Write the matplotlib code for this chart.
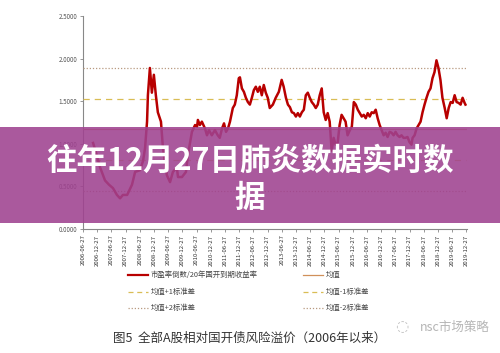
import matplotlib
matplotlib.use("Agg")
import matplotlib.pyplot as plt
from matplotlib.lines import Line2D
from matplotlib.patches import Rectangle

plt.rcParams['font.family'] = ['Noto Sans CJK SC', 'DejaVu Sans']

# ---- data (decimal years, ratio) ----
t = [2006.84, 2006.94, 2007.09, 2007.26, 2007.40, 2007.54, 2007.68, 2007.79, 2007.89, 2008.04,
     2008.21, 2008.32, 2008.49, 2008.60, 2008.67, 2008.74, 2008.77, 2008.84, 2008.91, 2008.98,
     2009.05, 2009.12, 2009.23, 2009.30, 2009.37, 2009.44, 2009.55, 2009.65, 2009.79, 2009.83,
     2009.97, 2010.11, 2010.18, 2010.32, 2010.43, 2010.50, 2010.53, 2010.60, 2010.67, 2010.78,
     2010.85, 2010.92, 2011.02, 2011.13, 2011.23, 2011.30, 2011.38, 2011.45, 2011.52, 2011.59,
     2011.66, 2011.76, 2011.83, 2011.90, 2011.97, 2012.01, 2012.08, 2012.15, 2012.22, 2012.29,
     2012.36, 2012.43, 2012.50, 2012.57, 2012.64, 2012.71, 2012.78, 2012.85, 2012.92, 2012.99,
     2013.06, 2013.17, 2013.27, 2013.38, 2013.48, 2013.55, 2013.63, 2013.70, 2013.77, 2013.84,
     2013.91, 2013.98, 2014.05, 2014.12, 2014.19, 2014.26, 2014.33, 2014.40, 2014.47, 2014.54,
     2014.61, 2014.68, 2014.75, 2014.82, 2014.89, 2014.96, 2015.03, 2015.10, 2015.17, 2015.24,
     2015.31, 2015.38, 2015.45, 2015.52, 2015.59, 2015.66, 2015.73, 2015.80, 2015.88, 2015.95,
     2016.02, 2016.09, 2016.16, 2016.23, 2016.30, 2016.37, 2016.44, 2016.51, 2016.58, 2016.65,
     2016.72, 2016.79, 2016.86, 2016.93, 2017.00, 2017.07, 2017.14, 2017.21, 2017.28, 2017.35,
     2017.42, 2017.49, 2017.56, 2017.63, 2017.70, 2017.77, 2017.84, 2017.91, 2017.98, 2018.05,
     2018.09, 2018.16, 2018.23, 2018.30, 2018.37, 2018.44, 2018.51, 2018.58, 2018.65, 2018.72,
     2018.79, 2018.86, 2018.93, 2019.00, 2019.07, 2019.14, 2019.22, 2019.29, 2019.36, 2019.43,
     2019.50, 2019.57, 2019.64, 2019.71, 2019.78, 2019.85, 2019.92, 2019.95]
ratio = [1.01, 0.90, 0.72, 0.57, 0.52, 0.48, 0.40, 0.36, 0.40, 0.40,
         0.52, 0.67, 0.69, 0.80, 0.95, 1.26, 1.57, 1.89, 1.60, 1.81,
         1.57, 1.37, 1.26, 0.95, 0.77, 0.63, 0.55, 0.67, 0.72, 0.61,
         0.61, 0.67, 0.87, 1.14, 1.22, 1.20, 1.28, 1.22, 1.26, 1.18,
         1.10, 1.16, 1.10, 1.16, 1.10, 1.07, 1.18, 1.24, 1.14, 1.18,
         1.26, 1.42, 1.46, 1.57, 1.77, 1.78, 1.65, 1.61, 1.54, 1.49,
         1.46, 1.54, 1.63, 1.67, 1.61, 1.67, 1.57, 1.69, 1.60, 1.54,
         1.42, 1.46, 1.54, 1.61, 1.75, 1.67, 1.54, 1.46, 1.43, 1.37,
         1.36, 1.32, 1.36, 1.32, 1.37, 1.40, 1.57, 1.60, 1.54, 1.49,
         1.46, 1.42, 1.46, 1.57, 1.65, 1.37, 1.28, 1.36, 1.26, 0.92,
         1.07, 0.99, 1.01, 1.22, 1.34, 1.30, 1.26, 1.10, 1.16, 1.20,
         1.49, 1.46, 1.40, 1.36, 1.32, 1.34, 1.30, 1.36, 1.32, 1.37,
         1.36, 1.40, 1.30, 1.22, 1.16, 1.10, 1.13, 1.08, 1.14, 1.13,
         1.10, 1.14, 1.10, 1.08, 1.10, 1.07, 1.07, 1.08, 1.02, 0.99,
         1.07, 1.10, 1.18, 1.22, 1.26, 1.37, 1.46, 1.54, 1.61, 1.65,
         1.77, 1.84, 1.98, 1.89, 1.75, 1.54, 1.42, 1.30, 1.42, 1.49,
         1.48, 1.57, 1.49, 1.48, 1.46, 1.54, 1.48, 1.46]

mean_val = 1.17
std_val = 0.36

tick_pos = [2006.485 + 0.5 * i for i in range(28)]
tick_labels = ['2006-06-27', '2006-12-27', '2007-06-27', '2007-12-27', '2008-06-27', '2008-12-27',
               '2009-06-27', '2009-12-27', '2010-06-27', '2010-12-27', '2011-06-27', '2011-12-27',
               '2012-06-27', '2012-12-27', '2013-06-27', '2013-12-27', '2014-06-27', '2014-12-27',
               '2015-06-27', '2015-12-27', '2016-06-27', '2016-12-27', '2017-06-27', '2017-12-27',
               '2018-06-27', '2018-12-27', '2019-06-27', '2019-12-27']
y_ticks = [0.0, 0.5, 1.0, 1.5, 2.0, 2.5]

legend_labels = ['市盈率倒数/20年国开到期收益率', '均值', '均值+1标准差', '均值-1标准差',
                 '均值+2标准差', '均值-2标准差']
caption = '图5  全部A股相对国开债风险溢价（2006年以来）'
banner_title = ['往年12月27日肺炎数据实时数', '据']

# ---- styles ----
c_data = '#b80000'
c_mean = '#d0905a'
c_std1 = '#d9bd55'
c_std2 = '#b89a80'

fig = plt.figure(figsize=(5.0, 3.53), dpi=100)
fig.patch.set_facecolor('white')
ax = fig.add_axes([83 / 500, 1 - 229 / 353, 384 / 500, 213 / 353])

x0, x1 = tick_pos[0], tick_pos[-1]
ax.plot(t, ratio, color=c_data, lw=1.8, zorder=5)
ax.plot([x0, x1], [mean_val] * 2, color=c_mean, lw=0.9, zorder=3)
ax.plot([x0, x1], [mean_val + std_val] * 2, color=c_std1, lw=0.9, ls=(0, (5, 4)), zorder=3)
ax.plot([x0, x1], [mean_val - std_val] * 2, color=c_std1, lw=0.9, ls=(0, (5, 4)), zorder=3)
ax.plot([x0, x1], [mean_val + 2 * std_val] * 2, color=c_std2, lw=0.9, ls=(0, (1, 1.5)), zorder=3)
ax.plot([x0, x1], [mean_val - 2 * std_val] * 2, color=c_std2, lw=0.9, ls=(0, (1, 1.5)), zorder=3)

ax.set_xlim(x0, x1 + 0.02)
ax.set_ylim(0, 2.5)
ax.set_yticks(y_ticks)
ax.set_yticklabels(['%.4f' % v for v in y_ticks], fontsize=4.5, color='#555555')
ax.set_xticks(tick_pos)
ax.set_xticklabels(tick_labels, rotation=90, fontsize=4.3, color='#333333')
ax.tick_params(axis='both', length=2, width=0.6, color='#888888', pad=2)
for s in ['top', 'right']:
    ax.spines[s].set_visible(False)
for s in ['left', 'bottom']:
    ax.spines[s].set_color('#888888')
    ax.spines[s].set_linewidth(0.8)

# ---- legend (manual, figure coords) ----
def fx(px):
    return px / 500

def fy(py):
    return 1 - py / 353

entries = [
    (128, 275, c_data, '-', 1.6, legend_labels[0]),
    (303, 275, c_mean, '-', 0.9, legend_labels[1]),
    (128, 292, c_std1, (0, (4, 3)), 0.9, legend_labels[2]),
    (303, 292, c_std1, (0, (4, 3)), 0.9, legend_labels[3]),
    (128, 308, c_std2, (0, (1, 1.5)), 0.9, legend_labels[4]),
    (303, 308, c_std2, (0, (1, 1.5)), 0.9, legend_labels[5]),
]
for px, py, col, ls, lw, lab in entries:
    fig.add_artist(Line2D([fx(px), fx(px + 20)], [fy(py), fy(py)], color=col, ls=ls, lw=lw,
                          transform=fig.transFigure))
    fig.text(fx(px + 23), fy(py), lab, fontsize=5.3, color='#444444', va='center', ha='left')

fig.text(0.5, fy(338), caption, fontsize=9, color='#333333', ha='center', va='center')
fig.text(fx(420), fy(327), 'nsc市场策略', fontsize=9, color='#b5b5b5', ha='left', va='center')
fig.text(fx(402), fy(327), '◌', fontsize=11, color='#c0c0c0', ha='center', va='center',
         family=['DejaVu Sans'])

# ---- banner ----
fig.add_artist(Rectangle((0, fy(223)), 1, (223 - 127) / 353, transform=fig.transFigure,
                         facecolor='#9f4290', alpha=0.88, edgecolor='none', zorder=10))
fig.text(0.5, fy(161), banner_title[0], fontsize=22, fontweight='bold', color='white',
         ha='center', va='center', zorder=11)
fig.text(0.5, fy(198), banner_title[1], fontsize=22, fontweight='bold', color='white',
         ha='center', va='center', zorder=11)

fig.savefig('out.png', dpi=100)
